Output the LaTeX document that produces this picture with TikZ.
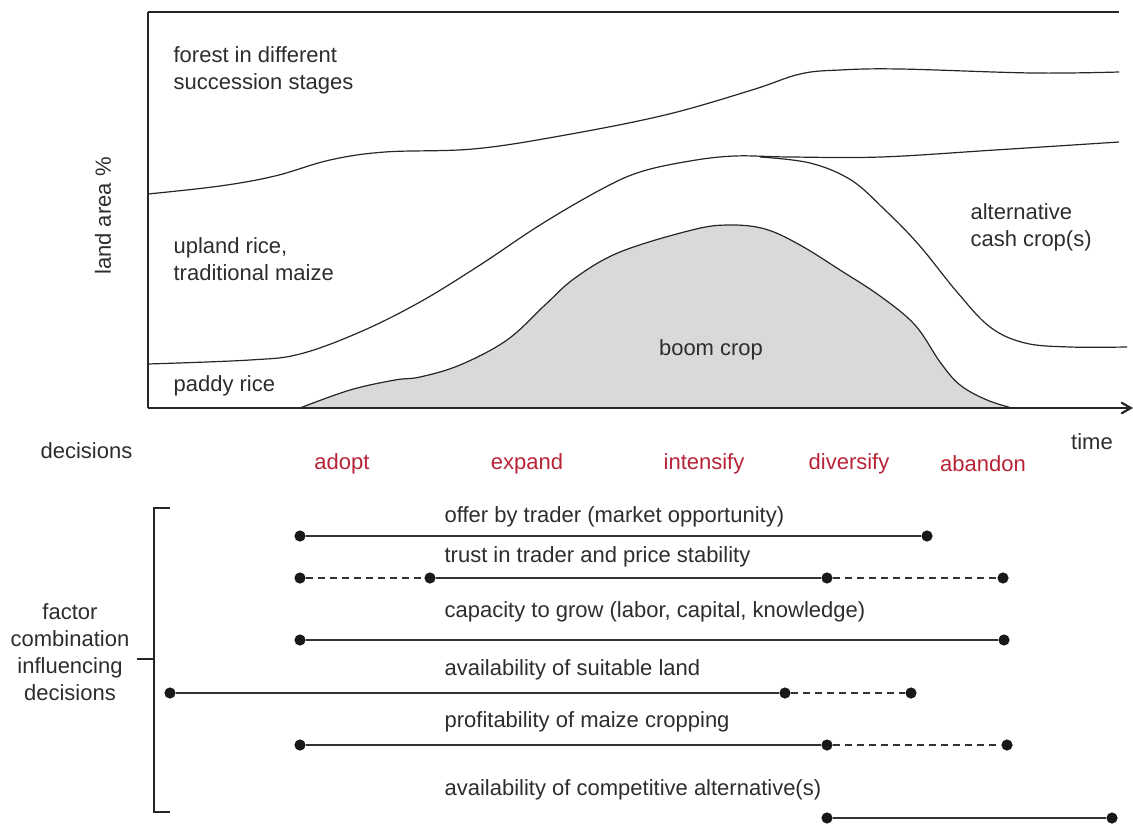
\documentclass[tikz,border=0pt]{standalone}
\usepackage{fontspec}
\setmainfont{Liberation Sans}
\usepackage{tikz}
\usetikzlibrary{%
  arrows,%
  positioning,% wg. " of "
  calc%
}
\definecolor{decred}{RGB}{185,35,55}
\definecolor{boomgray}{RGB}{217,217,217}
\definecolor{txtgray}{RGB}{45,45,45}

\begin{document}
\begin{tikzpicture}
[x=0.5pt, y=-0.5pt, font=\fontsize{11}{13.5}\selectfont, line width=0.6pt, >=angle 60,
lbl/.style={text=txtgray, align=left, inner sep=0pt},
decision/.style={text=decred, inner sep=0pt},
curve/.style={line width=0.6pt, draw=black!85},
dot/.style={circle, fill=black!90, inner sep=0pt, minimum size=5.6pt},
factor/.style={line width=0.85pt, draw=black!80},
weak/.style={line width=0.85pt, draw=black!80, dashed, dash pattern=on 3.5pt off 2.5pt}]

\useasboundingbox (0,0) rectangle (1133,824);

% axes
\coordinate (orig) at (148,408);
\coordinate (ytop) at (148,12);
\coordinate (xend) at (1133,408);
\coordinate (ttop) at (1119,12);

%boom crop
\fill[boomgray] plot[smooth, tension=.6] coordinates {(300,408) (350,390) (395,380) (420,377) (460,365) (507,340) (545,305) (575,278) (620,252) (692,230) (729,225) (765,229) (800,245) (840,270) (880,296) (915,325) (940,362) (960,385) (987,400) (1012,408)} -- cycle;
\draw[curve] plot[smooth, tension=.6] coordinates {(300,408) (350,390) (395,380) (420,377) (460,365) (507,340) (545,305) (575,278) (620,252) (692,230) (729,225) (765,229) (800,245) (840,270) (880,296) (915,325) (940,362) (960,385) (987,400) (1012,408)};

% forest
\draw[curve] plot[smooth, tension=.6] coordinates {(148,194) (220,186) (275,176) (330,160) (385,152) (473,149) (560,136) (665,115) (752,90) (800,74) (840,70) (900,69) (1032,73) (1119,72)};

% upland rice / cash crop
\draw[curve] plot[smooth, tension=.6] coordinates {(148,364) (250,360) (300,354) (360,332) (420,302) (480,265) (540,225) (600,190) (640,172) (690,161) (735,156) (790,157) (881,157) (995,150) (1119,142)};
\draw[curve] plot[smooth, tension=.6] coordinates {(760,157) (810,163) (851,180) (885,210) (919,245) (957,292) (990,327) (1025,343) (1070,347) (1127,347)};

\draw[line width=1.1pt, black!85] (ytop) -- (orig) (ytop) -- (ttop);
\draw[->, line width=1.1pt, black!85] (orig) -- (xend);

\node[lbl, rotate=90] (yaxis) at (103,216) {land area \%};
\node[lbl, anchor=west] (forest) at (173,70) {forest in different\\succession stages};
\node[lbl, anchor=west] (upland) at (173,259) {upland rice,\\traditional maize};
\node[lbl, anchor=west] (paddy) at (173,386) {paddy rice};
\node[lbl] (boom) at (711,350) {boom crop};
\node[lbl, anchor=west] (cash) at (970,227) {alternative\\cash crop(s)};
\node[lbl] (time) at (1092,442) {time};

% decisions
\node[lbl, anchor=west] (dec) at (40,451) {decisions};
\foreach \x/\w in {342/adopt, 527/expand, 704/intensify, 849/diversify, 983/abandon} {
  \node[decision] (d\w) at (\x,464) {\w};
}

% bracket
\node[lbl, align=center] (comb) at (70,652) {factor\\combination\\influencing\\decisions};
\draw[line width=0.8pt, black!85] (170,508) -- (154,508) -- (154,812) -- (170,812);
\draw[line width=0.8pt, black!85] (137,659) -- (154,659);

% factor labels
\foreach \y/\t in {517/offer by trader (market opportunity), 557/trust in trader and price stability, 612/{capacity to grow (labor, capital, knowledge)}, 670/availability of suitable land, 722/profitability of maize cropping, 790/availability of competitive alternative(s)} {
  \node[lbl, anchor=west] at (444,\y) {\t};
}

% factor lines
\node[dot] (offA) at (300,536) {};
\node[dot] (offB) at (927,536) {};
\draw[factor] (offA) -- (offB);

\node[dot] (truA) at (300,578) {};
\node[dot] (truB) at (430,578) {};
\node[dot] (truC) at (827,578) {};
\node[dot] (truD) at (1003,578) {};
\draw[weak] (truA) -- (truB);
\draw[factor] (truB) -- (truC);
\draw[weak] (truC) -- (truD);

\node[dot] (capA) at (300,640) {};
\node[dot] (capB) at (1004,640) {};
\draw[factor] (capA) -- (capB);

\node[dot] (lndA) at (170,693) {};
\node[dot] (lndB) at (785,693) {};
\node[dot] (lndC) at (911,693) {};
\draw[factor] (lndA) -- (lndB);
\draw[weak] (lndB) -- (lndC);

\node[dot] (proA) at (300,745) {};
\node[dot] (proB) at (827,745) {};
\node[dot] (proC) at (1007,745) {};
\draw[factor] (proA) -- (proB);
\draw[weak] (proB) -- (proC);

\node[dot] (altA) at (827,818) {};
\node[dot] (altB) at (1112,818) {};
\draw[factor] (altA) -- (altB);
\end{tikzpicture}
\end{document}
